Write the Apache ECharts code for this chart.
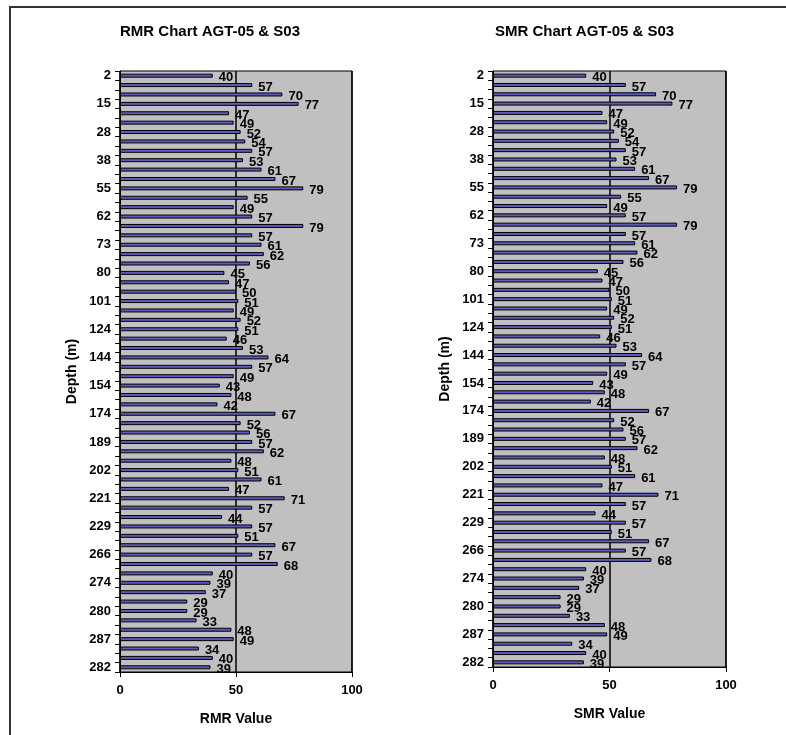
<!DOCTYPE html>
<html>
<head>
<meta charset="utf-8">
<script src="https://cdn.jsdelivr.net/npm/echarts@6/dist/echarts.min.js"></script>
<style>html,body{margin:0;padding:0;background:#fff;}#c{width:786px;height:735px;}</style>
</head>
<body>
<div id="c"></div>
<script>
// Depth labels (only every third row is labelled in the original)
const depthLabels = ['2','15','28','38','55','62','73','80','101','124','144','154','174','189','202','221','229','266','274','280','287','282'];
const rmrValues = [40,57,70,77,47,49,52,54,57,53,61,67,79,55,49,57,79,57,61,62,56,45,47,50,51,49,52,51,46,53,64,57,49,43,48,42,67,52,56,57,62,48,51,61,47,71,57,44,57,51,67,57,68,40,39,37,29,29,33,48,49,34,40,39];
const smrValues = [40,57,70,77,47,49,52,54,57,53,61,67,79,55,49,57,79,57,61,62,56,45,47,50,51,49,52,51,46,53,64,57,49,43,48,42,67,52,56,57,62,48,51,61,47,71,57,44,57,51,67,57,68,40,39,37,29,29,33,48,49,34,40,39];
const xTicks = [0, 50, 100];

// build category list: labelled row followed by two unlabelled rows
const categories = [];
depthLabels.forEach((d, i) => {
  categories.push(d);
  if (i < depthLabels.length - 1) { categories.push(''); categories.push(''); }
});

const FONT = 'Liberation Sans, Arial, sans-serif';
const chart = echarts.init(document.getElementById('c'));

function xAxis(gi, name) {
  return {
    type: 'value', gridIndex: gi, min: xTicks[0], max: xTicks[xTicks.length-1], interval: 50,
    name: name, nameLocation: 'middle', nameGap: 40,
    nameTextStyle: {fontFamily: FONT, fontWeight: 'bold', fontSize: 14, color: '#000'},
    axisLine: {show: true, lineStyle: {color: '#000', width: 1}},
    axisTick: {show: true, length: 5, lineStyle: {color: '#000'}},
    axisLabel: {fontFamily: FONT, fontWeight: 'bold', fontSize: 13, color: '#000', margin: 12},
    splitLine: {show: true, lineStyle: {color: '#000', width: 1.5}}
  };
}
function yAxis(gi) {
  return {
    type: 'category', gridIndex: gi, data: categories, inverse: true,
    name: 'Depth (m)', nameLocation: 'middle', nameGap: 41, nameRotate: 90,
    nameTextStyle: {fontFamily: FONT, fontWeight: 'bold', fontSize: 14, color: '#000'},
    axisLine: {show: true, lineStyle: {color: '#000', width: 1}},
    axisTick: {show: true, interval: 0, length: 5, lineStyle: {color: '#000'}},
    axisLabel: {interval: 0, fontFamily: FONT, fontWeight: 'bold', fontSize: 13, color: '#000', margin: 9},
    splitLine: {show: false}
  };
}
function series(gi, data) {
  return {
    type: 'bar', xAxisIndex: gi, yAxisIndex: gi, data: data, barWidth: 4,
    itemStyle: {color: '#5c5cb8', borderColor: '#000', borderWidth: 1},
    label: {show: true, position: 'right', distance: 6, offset: [0, 2],
      fontFamily: FONT, fontWeight: 'bold', fontSize: 13, color: '#000'},
    silent: true, animation: false
  };
}

chart.setOption({
  animation: false,
  title: [
    {text: 'RMR Chart AGT-05 & S03', left: 115, top: 19,
      textStyle: {fontFamily: FONT, fontWeight: 'bold', fontSize: 15, color: '#000'}},
    {text: 'SMR Chart AGT-05 & S03', left: 490, top: 19,
      textStyle: {fontFamily: FONT, fontWeight: 'bold', fontSize: 15, color: '#000'}}
  ],
  graphic: [{type: 'rect', shape: {x: 10, y: 7, width: 800, height: 800}, silent: true, z: -10,
    style: {fill: 'none', stroke: '#333', lineWidth: 2}}],
  grid: [
    {left: 120, top: 71, width: 232, height: 601, show: true, backgroundColor: '#c0c0c0', borderColor: '#000', borderWidth: 1},
    {left: 493, top: 71, width: 233, height: 596, show: true, backgroundColor: '#c0c0c0', borderColor: '#000', borderWidth: 1}
  ],
  xAxis: [xAxis(0, 'RMR Value'), xAxis(1, 'SMR Value')],
  yAxis: [yAxis(0), yAxis(1)],
  series: [series(0, rmrValues), series(1, smrValues)]
});
</script>
</body>
</html>
